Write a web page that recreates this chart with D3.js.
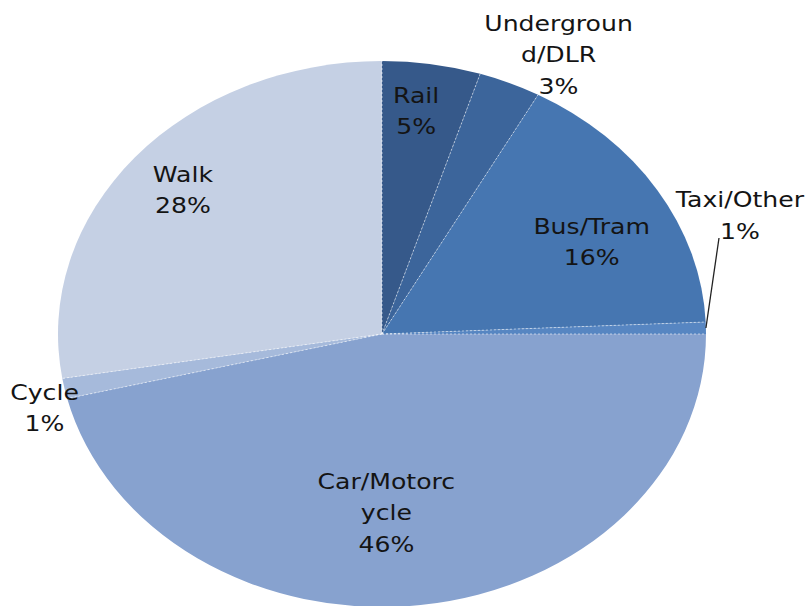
<!DOCTYPE html>
<html>
<head>
<meta charset="utf-8">
<script src="https://cdn.jsdelivr.net/npm/d3@7"></script>
<style>
  body { margin: 0; background: #fff; }
  svg { display: block; }
</style>
</head>
<body>
<svg id="pie" width="811" height="606"></svg>
<script>
// Travel mode share pie (Excel style, stretched horizontally).

const modes = ["Rail", "Underground/DLR", "Bus/Tram", "Taxi/Other", "Car/Motorcycle", "Cycle", "Walk"];
const shares = [4.9, 3.1, 16.3, 0.7, 46.2, 1.2, 27.6];
const labelLines = [
  ["Rail", "5%"],
  ["Undergroun", "d/DLR", "3%"],
  ["Bus/Tram", "16%"],
  ["Taxi/Other", "1%"],
  ["Car/Motorc", "ycle", "46%"],
  ["Cycle", "1%"],
  ["Walk", "28%"]
];
const colors = ["#36598a", "#3c659b", "#4676b1", "#5786c2", "#87a2cf", "#a6badb", "#c5d0e4"];

const svg = d3.select("#pie");
const cx = 382, cy = 334;
const ry = 273, rx = 324;
const sx = rx / ry;

const data = modes.map((m, i) => ({ mode: m, value: shares[i], lines: labelLines[i], color: colors[i] }));

const pie = d3.pie().sort(null).value(d => d.value);
const arcs = pie(data);
const arc = d3.arc().innerRadius(0).outerRadius(ry);

const g = svg.append("g")
  .attr("transform", `translate(${cx},${cy}) scale(${sx},1)`);

g.selectAll("path.slice")
  .data(arcs)
  .join("path")
  .attr("class", "slice")
  .attr("d", arc)
  .attr("fill", d => d.data.color);

// faint dotted separators between slices
g.selectAll("line.sep")
  .data(arcs)
  .join("line")
  .attr("class", "sep")
  .attr("x1", 0).attr("y1", 0)
  .attr("x2", d => ry * Math.sin(d.startAngle))
  .attr("y2", d => -ry * Math.cos(d.startAngle))
  .attr("stroke", "#ffffff")
  .attr("stroke-opacity", 0.55)
  .attr("stroke-width", 1)
  .attr("stroke-dasharray", "2,2")
  .attr("vector-effect", "non-scaling-stroke");

// label placement: radius fraction along the slice's mid angle (1 = edge), plus a nudge
const labelRadius = { "Rail": 0.829, "Underground/DLR": 1.116, "Bus/Tram": 0.642, "Taxi/Other": 1.0,
  "Car/Motorcycle": 0.657, "Cycle": 1.0, "Walk": 0.818 };
const labelShift = { "Rail": [-7, 0], "Underground/DLR": [34, 0], "Bus/Tram": [33, 0], "Taxi/Other": [34, -113],
  "Car/Motorcycle": [-21, 0], "Cycle": [-20, 19], "Walk": [3, 0] };

function edgePoint(angle, f) {
  return [cx + rx * f * Math.sin(angle), cy - ry * f * Math.cos(angle)];
}

const lineH = 31.5;
const labels = svg.selectAll("g.label")
  .data(arcs)
  .join("g")
  .attr("class", "label")
  .attr("transform", d => {
    const mid = (d.startAngle + d.endAngle) / 2;
    const p = edgePoint(mid, labelRadius[d.data.mode]);
    const s = labelShift[d.data.mode];
    return `translate(${p[0] + s[0]},${p[1] + s[1]}) scale(1.17,1)`;
  });

labels.each(function(d) {
  const n = d.data.lines.length;
  const t = d3.select(this).append("text")
    .attr("text-anchor", "middle")
    .attr("font-family", "DejaVu Sans, Verdana, sans-serif")
    .attr("font-size", 21.5)
    .attr("fill", "#141414");
  d.data.lines.forEach((line, i) => {
    t.append("tspan")
      .attr("x", 0)
      .attr("y", (i - (n - 1) / 2) * lineH + 8)
      .text(line);
  });
});

// leader line for the thin Taxi/Other slice
const taxi = arcs[3];
const taxiMid = (taxi.startAngle + taxi.endAngle) / 2;
const lp = edgePoint(taxiMid, 1.0);
svg.append("line")
  .attr("x1", lp[0])
  .attr("y1", lp[1])
  .attr("x2", 719)
  .attr("y2", 238)
  .attr("stroke", "#222")
  .attr("stroke-width", 1.3);
</script>
</body>
</html>
